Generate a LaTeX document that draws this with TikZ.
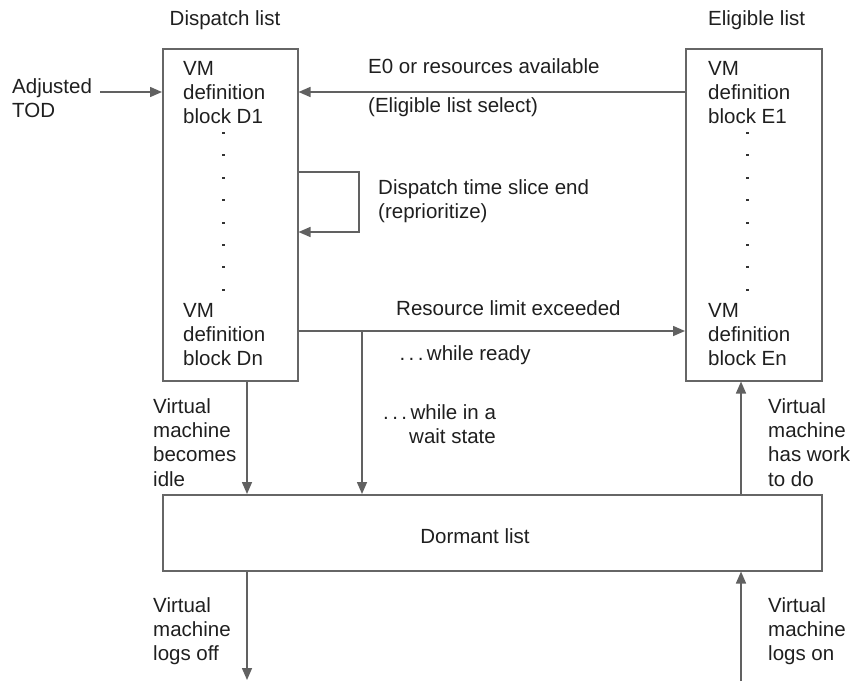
\documentclass[tikz,border=0pt]{standalone}
\usepackage{fontspec}
\setmainfont{Liberation Sans}
\usetikzlibrary{arrows.meta}
\begin{document}
\begin{tikzpicture}[x=1pt,y=-1pt,
  lbl/.style={font=\fontsize{20.5}{24.4}\selectfont, inner sep=0pt, align=left, anchor=base west, text=black!88},
  box/.style={draw=black!60, line width=1.5pt, anchor=north west, inner sep=0pt},
  conn/.style={draw=black!62, line width=1.5pt, -{Triangle[length=12pt,width=10pt]}},
  dotmark/.style={fill=black!80}]
\useasboundingbox (0,0) rectangle (850,681);
% boxes
\node[box, minimum width=135pt, minimum height=332pt] (disp) at (162,48) {};
\node[box, minimum width=136pt, minimum height=332pt] (elig) at (685,48) {};
\node[box, minimum width=659pt, minimum height=76pt] (dorm) at (162,494) {};
% titles (anchor base = baseline of the last line)
\node[lbl, anchor=base] (tdisp) at (225,25) {Dispatch list};
\node[lbl] (telig) at (708,25) {Eligible list};
% box contents
\node[lbl] (d1) at (183,123.8) {VM\\definition\\block D1};
\node[lbl] (dn) at (183,365.8) {VM\\definition\\block Dn};
\node[lbl] (e1) at (708,123.8) {VM\\definition\\block E1};
\node[lbl] (en) at (708,365.8) {VM\\definition\\block En};
\node[lbl, anchor=base] (dtext) at (475,543) {Dormant list};
% column of dots in each list
\foreach \i in {0,...,7} {
  \fill[dotmark] (221.5,132+22.4*\i) rectangle ++(3,2);
  \fill[dotmark] (745.5,132+22.4*\i) rectangle ++(3,2);
}
% labels
\node[lbl] (tod) at (12,117.4) {Adjusted\\TOD};
\node[lbl] (e0) at (368,73) {E0 or resources available};
\node[lbl] (sel) at (368,112) {(Eligible list select)};
\node[lbl] (tslice) at (378,218.4) {Dispatch time slice end\\(reprioritize)};
\node[lbl] (rlim) at (396,315) {Resource limit exceeded};
\node[lbl] (ready) at (396,360) {\,.\,.\,.\,while ready};
\node[lbl] (wait) at (383,443.4) {.\,.\,.\,while in a\\\hspace*{26pt}wait state};
\node[lbl] (idle) at (153,486.2) {Virtual\\machine\\becomes\\idle};
\node[lbl] (work) at (768,486.2) {Virtual\\machine\\has work\\to do};
\node[lbl] (logoff) at (153,660.8) {Virtual\\machine\\logs off};
\node[lbl] (logon) at (768,660.8) {Virtual\\machine\\logs on};
% helper coordinates
\coordinate (todstart) at (100,92);
\coordinate (yE0) at (0,92);
\coordinate (yL1) at (0,172);
\coordinate (yL2) at (0,232);
\coordinate (loopx) at (359,0);
\coordinate (yR) at (0,331);
\coordinate (xwait) at (362,0);
\coordinate (xL) at (247,0);
\coordinate (xR) at (741,0);
\coordinate (offend) at (247,680);
\coordinate (onstart) at (741,681);
% connectors
\draw[conn] (todstart) -- (disp.west |- yE0);
\draw[conn] (elig.west |- yE0) -- (disp.east |- yE0);
\draw[conn] (disp.east |- yL1) -- (loopx |- yL1) -- (loopx |- yL2) -- (disp.east |- yL2);
\draw[conn] (disp.east |- yR) -- (elig.west |- yR);
\draw[conn] (xwait |- yR) -- (xwait |- dorm.north);
\draw[conn] (xL |- disp.south) -- (xL |- dorm.north);
\draw[conn] (xR |- dorm.north) -- (xR |- elig.south);
\draw[conn] (xL |- dorm.south) -- (offend);
\draw[conn] (onstart) -- (xR |- dorm.south);
\end{tikzpicture}
\end{document}
